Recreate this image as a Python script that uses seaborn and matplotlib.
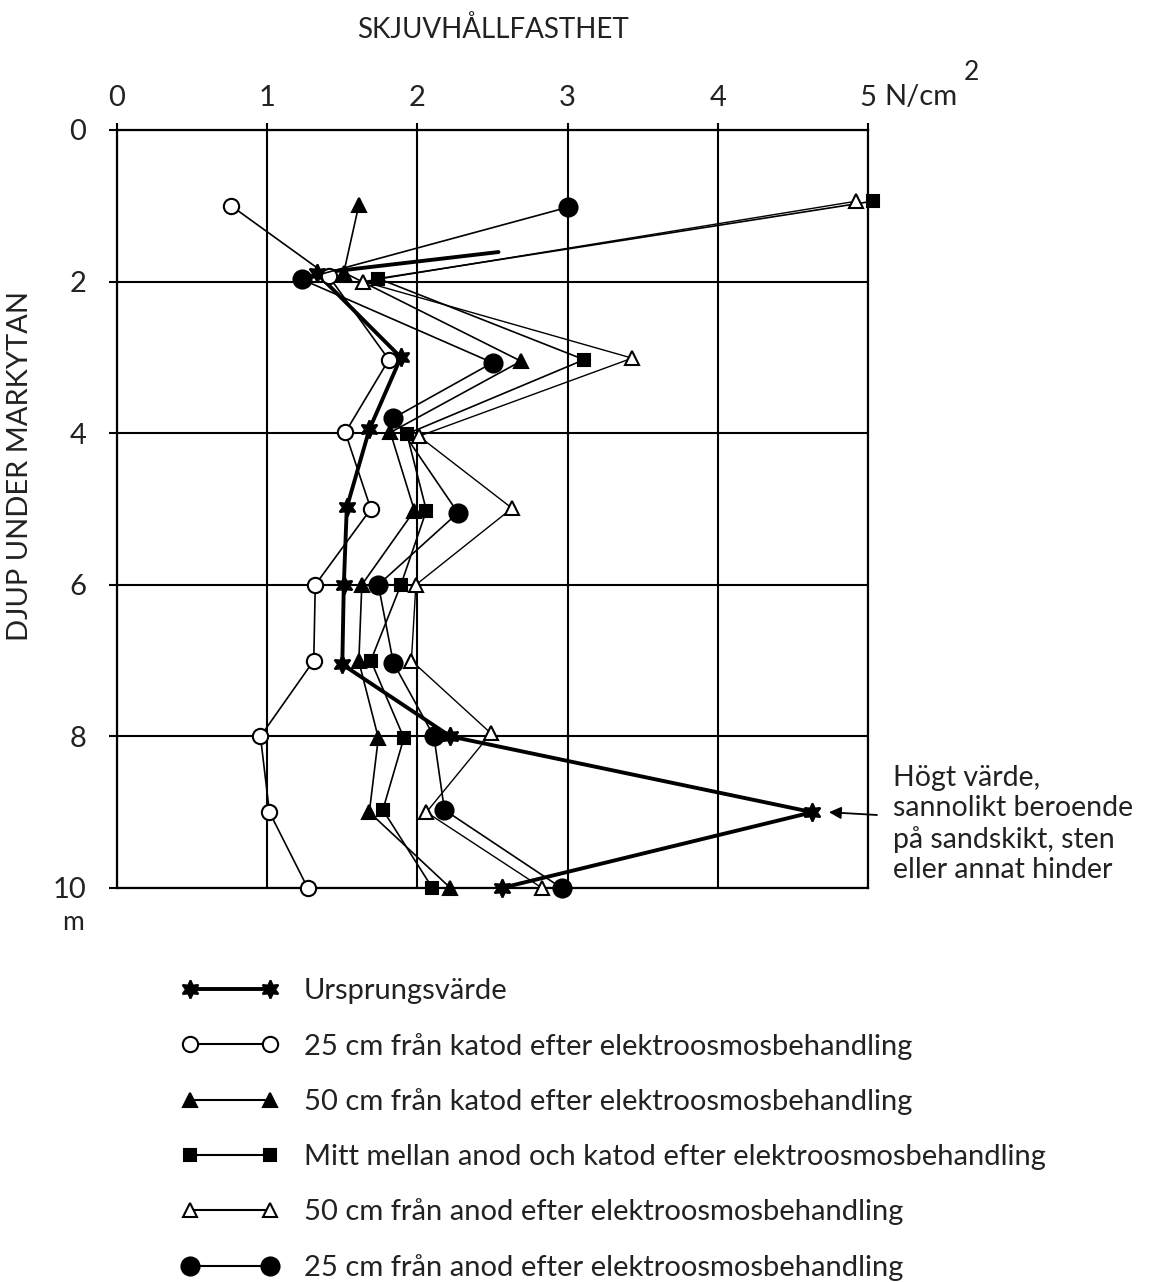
import matplotlib
matplotlib.use("Agg")
import matplotlib.pyplot as plt
import seaborn as sns
import pandas as pd
from matplotlib.lines import Line2D

# ---------------- data ----------------
# Ursprungsvärde (first point is the unmarked end of the thick line)
star_x = [2.54, 1.33, 1.89, 1.68, 1.53, 1.51, 1.50, 2.22, 4.63, 2.56]
star_y = [1.61, 1.89, 3.00, 3.95, 4.98, 6.00, 7.05, 8.00, 9.00, 10.0]
# 25 cm från katod
oc_x = [0.76, 1.41, 1.81, 1.52, 1.69, 1.32, 1.31, 0.955, 1.015, 1.27]
oc_y = [1.00, 1.93, 3.03, 3.99, 5.00, 6.00, 7.00, 8.00, 9.00, 10.0]
# 50 cm från katod
ft_x = [1.61, 1.51, 2.69, 1.82, 1.98, 1.63, 1.61, 1.74, 1.68, 2.22]
ft_y = [0.99, 1.88, 3.05, 3.99, 5.02, 6.00, 7.01, 8.02, 9.00, 10.0]
# Mitt mellan anod och katod
fs_x = [5.03, 1.74, 3.11, 1.93, 2.06, 1.89, 1.69, 1.91, 1.77, 2.10]
fs_y = [0.94, 1.96, 3.03, 4.01, 5.02, 6.00, 7.00, 8.02, 8.97, 10.0]
# 50 cm från anod
ot_x = [4.92, 1.64, 3.43, 2.01, 2.63, 1.99, 1.96, 2.49, 2.06, 2.83]
ot_y = [0.94, 2.00, 3.01, 4.04, 4.99, 6.00, 7.00, 7.96, 9.00, 10.0]
# 25 cm från anod
fc_x = [3.00, 1.23, 2.50, 1.84, 2.27, 1.74, 1.84, 2.11, 2.18, 2.96]
fc_y = [1.02, 1.97, 3.07, 3.80, 5.05, 6.00, 7.03, 8.00, 8.97, 10.0]

labels = [
    "Ursprungsvärde",
    "25 cm från katod efter elektroosmosbehandling",
    "50 cm från katod efter elektroosmosbehandling",
    "Mitt mellan anod och katod efter elektroosmosbehandling",
    "50 cm från anod efter elektroosmosbehandling",
    "25 cm från anod efter elektroosmosbehandling",
]
x_ticks = [0, 1, 2, 3, 4, 5]
y_ticks = [0, 2, 4, 6, 8, 10]

# ---------------- styling ----------------
sns.set_theme(style="white")
plt.rcParams["font.family"] = ["Lato", "DejaVu Sans"]

W, H = 1162, 1282
fig = plt.figure(figsize=(W / 100, H / 100), dpi=100)
fig.patch.set_facecolor("white")
ax = fig.add_axes([117 / W, 1 - 888 / H, (868 - 117) / W, (888 - 130) / H])
ax.set_facecolor("white")

STAR = (6, 1, 0)
styles = [
    dict(marker=STAR, ms=13, mfc="black", lw=2.8),
    dict(marker="o", ms=11, mfc="white", lw=1.2),
    dict(marker="^", ms=10, mfc="black", lw=1.2),
    dict(marker="s", ms=9, mfc="black", lw=1.2),
    dict(marker="^", ms=10, mfc="white", lw=1.0),
    dict(marker="o", ms=13, mfc="black", lw=1.2),
]
series = [(star_x, star_y), (oc_x, oc_y), (ft_x, ft_y),
          (fs_x, fs_y), (ot_x, ot_y), (fc_x, fc_y)]

order = [1, 2, 3, 4, 5, 0]
for i in order:
    xs, ys = series[i]
    st = styles[i]
    df = pd.DataFrame({"x": xs, "depth": ys})
    extra = {}
    if i == 0:
        extra["markevery"] = list(range(1, len(xs)))
    sns.lineplot(data=df, x="x", y="depth", sort=False, estimator=None, ax=ax,
                 color="black", linewidth=st["lw"], marker=st["marker"],
                 markersize=st["ms"], markerfacecolor=st["mfc"],
                 markeredgecolor="black", markeredgewidth=1.5, zorder=3 + i,
                 clip_on=False, **extra)

ax.set_xlim(0, 5)
ax.set_ylim(10, 0)
ax.set_xticks(x_ticks)
ax.set_yticks(y_ticks)
ax.set_xticklabels([str(v) for v in x_ticks])
ax.set_yticklabels([str(v) for v in y_ticks])
ax.xaxis.tick_top()
ax.tick_params(axis="x", top=True, bottom=False, direction="out", length=5,
               width=1.5, color="black", pad=9, labelsize=21, labelcolor="#222")
ax.tick_params(axis="y", left=True, direction="out", length=6, width=1.5,
               color="black", pad=16, labelsize=21, labelcolor="#222")
ax.grid(True, color="black", linewidth=1.5)
for sp in ax.spines.values():
    sp.set_visible(True)
    sp.set_color("black")
    sp.set_linewidth(1.6)
ax.set_xlabel("")
ax.set_ylabel("")

# texts
fig.text(493 / W, 1 - 30 / H, "SKJUVHÅLLFASTHET", ha="center", va="center",
         fontsize=20, color="#222")
fig.text(884 / W, 1 - 97 / H, "N/cm", ha="left", va="center", fontsize=21, color="#222")
fig.text(964 / W, 1 - 72 / H, "2", ha="left", va="center", fontsize=19, color="#222")
fig.text(20 / W, 1 - 466 / H, "DJUP UNDER MARKYTAN", ha="center", va="center",
         rotation=90, fontsize=21, color="#222")
fig.text(73 / W, 1 - 922 / H, "m", ha="center", va="center", fontsize=19, color="#222")

fig.text(893 / W, 1 - 824 / H,
         "Högt värde,\nsannolikt beroende\npå sandskikt, sten\neller annat hinder",
         ha="left", va="center", fontsize=20.5, linespacing=1.2, color="#222")
ax.annotate("", xy=(4.74, 9.0), xycoords="data",
            xytext=(877, H - 815), textcoords="figure pixels",
            arrowprops=dict(arrowstyle="-|>", color="black", lw=1.3,
                            mutation_scale=18, shrinkA=0, shrinkB=0))

# legend
handles = []
for st in styles:
    handles.append(Line2D([0], [0], color="black", linewidth=st["lw"] if st["lw"] > 2 else 1.5,
                          marker=st["marker"], markersize=st["ms"],
                          markerfacecolor=st["mfc"], markeredgecolor="black",
                          markeredgewidth=1.5))
fig.legend(handles, labels, loc="upper left",
           bbox_to_anchor=(181 / W, 1 - 978 / H), bbox_transform=fig.transFigure,
           frameon=False, numpoints=2, fontsize=21, handlelength=3.35,
           handletextpad=0.85, labelspacing=0.98, borderpad=0, borderaxespad=0,
           labelcolor="#222")

fig.savefig("out.png", dpi=100, facecolor="white")
